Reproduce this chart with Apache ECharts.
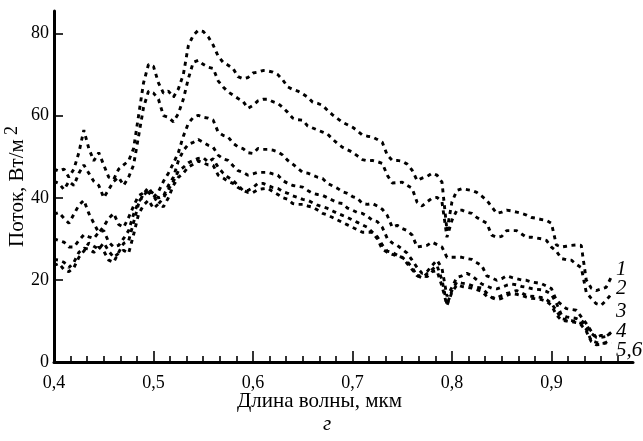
<!DOCTYPE html>
<html>
<head>
<meta charset="utf-8">
<script src="https://cdn.jsdelivr.net/npm/echarts@6/dist/echarts.min.js"></script>
<style>
  html, body { margin: 0; padding: 0; background: #fff; }
  #chart { width: 643px; height: 441px; }
</style>
</head>
<body>
<div id="chart"></div>
<script>
// Wavelength grid, µm
const wavelength = [
  0.400, 0.405, 0.410, 0.415, 0.420, 0.425, 0.430, 0.435, 0.440, 0.445,
  0.450, 0.455, 0.460, 0.465, 0.470, 0.475, 0.480, 0.485, 0.490, 0.495,
  0.500, 0.505, 0.510, 0.515, 0.520, 0.525, 0.530, 0.535, 0.540, 0.545,
  0.550, 0.555, 0.560, 0.565, 0.570, 0.575, 0.580, 0.585, 0.590, 0.595,
  0.600, 0.605, 0.610, 0.615, 0.620, 0.625, 0.630, 0.635, 0.640, 0.645,
  0.650, 0.655, 0.660, 0.665, 0.670, 0.675, 0.680, 0.685, 0.690, 0.695,
  0.700, 0.705, 0.710, 0.715, 0.720, 0.725, 0.730, 0.735, 0.740, 0.745,
  0.750, 0.755, 0.760, 0.765, 0.770, 0.775, 0.780, 0.785, 0.790, 0.795,
  0.800, 0.805, 0.810, 0.815, 0.820, 0.825, 0.830, 0.835, 0.840, 0.845,
  0.850, 0.855, 0.860, 0.865, 0.870, 0.875, 0.880, 0.885, 0.890, 0.895,
  0.900, 0.905, 0.910, 0.915, 0.920, 0.925, 0.930, 0.935, 0.940, 0.945,
  0.950, 0.955, 0.960
];

// Flux, W/m^2 — curves 1..6
const flux1 = [
  47, 46.5, 47, 45, 47, 51, 56.5, 52, 49, 51,
  48, 45, 44.5, 47, 48, 49, 52, 60, 68, 72.5,
  72, 68, 65.5, 66, 64.5, 66.5, 70, 77, 79.6, 80.8,
  80.5, 79.2, 77.2, 74.5, 73, 72.3, 71.5, 69.5, 69, 69.3,
  70.4, 70.6, 71, 70.9, 70.6, 70, 68.7, 67, 66.4, 66,
  65.3, 64.5, 63.3, 63, 62.5, 61.3, 60.2, 59.3, 58.4, 57.8,
  57.2, 56.3, 55.3, 55, 54.8, 54.2, 53.5, 50.4, 49.1, 49.1,
  48.9, 48.2, 46.7, 44.2, 44.8, 45.2, 46, 45.5, 43.8, 32,
  39, 41.8, 42.2, 42, 41.8, 41.3, 40.4, 39.4, 37.8, 36.2,
  36.5, 37, 36.8, 36.5, 36.2, 35.8, 35.2, 35, 34.7, 34.5,
  33.8, 28.5, 28, 28.2, 28.4, 28.5, 28.4, 20, 18, 17.4,
  17.8, 18.2, 20.6
];
const flux2 = [
  44, 43.5, 42, 44, 43, 46, 48, 46, 44, 43,
  40, 42, 44, 45, 43, 45, 48, 55, 62, 66,
  65.5, 64, 60, 59.6, 58.5, 60.5, 64, 69, 73, 73.5,
  72.5, 71.8, 71.5, 68.5, 67, 65.8, 65, 64.2, 63.5, 61.8,
  62.5, 63.6, 64, 64, 63.4, 63, 62, 60.8, 59.4, 59,
  58.9, 57.5, 57, 56.5, 56, 55.5, 54.3, 53.2, 52.3, 51.7,
  51.1, 50.2, 49.3, 49, 49.1, 48.8, 48.4, 45.5, 43.6, 43.7,
  43.8, 43, 42.3, 38.9, 38, 39, 39.9, 40.1, 39, 30.4,
  34.5, 37, 37, 36.5, 36.2, 35.2, 34.5, 33.8, 30.9, 30.4,
  30.6, 32, 32, 32, 31.2, 30.4, 30.4, 30.2, 30, 29.6,
  28, 27, 25.2, 24.9, 24.8, 23.8, 23, 17, 15.5, 14.2,
  13.8, 15, 16.5
];
const flux3 = [
  36, 36.4, 35, 33.8, 36, 38.2, 39.4, 36.2, 33.8, 31.5,
  33, 35, 36.2, 33.5, 32.8, 35.2, 38, 40.5, 41.2, 41.3,
  40.1, 41.5, 44, 46, 48.4, 51, 55, 58.1, 59.6, 60.1,
  59.6, 59.4, 58.9, 56, 55.2, 54.8, 53.3, 52.4, 52, 51,
  50.8, 52, 51.8, 51.8, 51.6, 51.2, 50.4, 49.1, 48.2, 47.2,
  46.2, 46, 45.5, 45, 44.7, 43.5, 42.9, 42.3, 41.5, 41.1,
  40.3, 39.9, 38.6, 38.4, 38.6, 38, 37.2, 35.7, 32.8, 33.3,
  32.5, 32, 30.9, 28, 28.2, 28.4, 29.2, 28.6, 28, 25.5,
  25.5, 25.5, 25.5, 25.2, 25, 24.2, 23.5, 21, 20.5, 19.9,
  20.3, 21, 20.6, 20.3, 20, 19.9, 19.5, 19.3, 19.1, 18.5,
  17.9, 15, 14, 13, 12.8, 12.6, 11, 9.4, 7.5, 6,
  6, 6.2, 7.2
];
const flux4 = [
  30, 29.6, 29.2, 28, 28, 29.6, 31, 30.5, 30.1, 31.6,
  32, 29.2, 28, 28.4, 30.1, 32, 36, 39, 40.5, 42,
  41, 40, 40.4, 43, 45, 49, 51.5, 53, 53.5, 54.2,
  53.5, 52.8, 52.3, 50.4, 49.5, 49.1, 47.8, 46.6, 46.2, 45.5,
  45.8, 46.2, 46.2, 46.2, 45.8, 45.5, 44.2, 43.5, 43, 42.8,
  42.6, 41.8, 41.1, 40.8, 40.6, 40, 39.4, 38.8, 38.6, 37.5,
  37, 36.4, 36.2, 35.5, 34.5, 34.2, 32.8, 30.1, 29, 28.4,
  27.5, 26.5, 24.8, 23, 21.6, 22, 23.5, 24.8, 22.8, 16,
  18.2, 20.6, 21, 21.6, 21, 20, 19, 18.5, 18, 17.8,
  18.2, 18.7, 19, 18.8, 18.4, 18.2, 17.9, 17.7, 17.6, 17.2,
  16.5, 14.3, 11.5, 11, 10.8, 10.6, 10.1, 9.2, 7, 6,
  6.5, 6.3, 7
];
const flux5 = [
  25, 24.8, 24.3, 23, 24.3, 26.7, 27.7, 27.5, 26.7, 28,
  27, 24.8, 24.3, 26.7, 28.9, 29.5, 34, 38.5, 41, 42.5,
  40.5, 38.5, 40, 42, 44, 46.5, 47.4, 48.5, 49.1, 49.6,
  49.8, 48.7, 49.5, 47.4, 46, 45, 44.2, 43, 41.8, 41.8,
  42.5, 43.5, 43.5, 43, 42.5, 42.3, 41.5, 41.1, 40.5, 40.1,
  39.6, 39.4, 38.8, 38.2, 37.8, 37.4, 36.8, 36.2, 35.7, 35.2,
  34.6, 34, 33.4, 32.8, 31.6, 30.5, 28.5, 27, 26.7, 26,
  25.5, 24.5, 23, 21, 20.5, 21.5, 22.5, 23.5, 20, 14,
  17.4, 19.5, 19.2, 19, 18.6, 18.2, 18, 16.8, 15.7, 15.6,
  16.2, 16.7, 17, 17.4, 16.8, 16.2, 16, 15.9, 15.7, 15.2,
  14.3, 12.5, 10.6, 10.3, 10.1, 9.8, 9.4, 8, 5.2, 4.8,
  4.5, 4.6, 4.7
];
const flux6 = [
  23.5, 24, 22.5, 22, 23, 25.5, 27, 29, 28.2, 27.5,
  29, 27, 25.5, 26.5, 27.2, 26.5, 31, 36, 38.2, 39.4,
  37.4, 38.5, 37.8, 40, 43, 45, 46, 47.5, 48.2, 49,
  48.5, 48, 47.9, 45.5, 44.8, 44, 43.5, 42.5, 41.8, 41.3,
  41.3, 42, 42.2, 42.3, 41.5, 40.8, 40, 39.6, 38.6, 38.4,
  38.4, 38, 37.7, 37, 36.2, 35.8, 35.2, 34.6, 34, 33.4,
  32.8, 32.2, 31.6, 31.6, 31.6, 30, 27.5, 26.7, 26.2, 25.8,
  25.5, 24, 22.5, 21, 21, 20.8, 22, 22.2, 18.5, 13.8,
  17, 18.8, 18.4, 18.2, 18, 17.6, 17.2, 16, 15.7, 15.2,
  15.5, 16.2, 16.7, 16.5, 16.2, 15.8, 15.5, 15.4, 15.2, 14.8,
  13.8, 11.5, 10.2, 10, 9.8, 9.6, 9, 7.5, 5, 4.2,
  4.3, 4.8, 5.5
];

const fluxSeries = [flux1, flux2, flux3, flux4, flux5, flux6];
const curveLabels = ['1', '2', '3', '4', '5,6'];
const xTickValues = [0.4, 0.5, 0.6, 0.7, 0.8, 0.9];
const yTickValues = [0, 20, 40, 60, 80];

const serif = '"Liberation Serif", "DejaVu Serif", serif';

const chart = echarts.init(document.getElementById('chart'), null, { renderer: 'canvas' });

const series = fluxSeries.map((values, k) => ({
  type: 'line',
  name: 'curve' + (k + 1),
  data: wavelength.map((w, i) => [w, values[i]]),
  showSymbol: false,
  smooth: false,
  silent: true,
  lineStyle: { color: '#000', width: 2.9, type: [4, 4.5], cap: 'butt' }
}));

// Curve numbers stacked at the right end of the plot
const labelRows = [271, 290, 313, 333, 352];
const curveText = curveLabels.map((t, i) => ({
  type: 'text',
  left: 616,
  top: labelRows[i] - 12,
  style: { text: t, font: 'italic 21px ' + serif, fill: '#000' }
}));

chart.setOption({
  animation: false,
  backgroundColor: '#fff',
  grid: { left: 54, right: 10, top: 11, bottom: 79, containLabel: false, outerBoundsMode: 'none' },
  xAxis: {
    type: 'value',
    min: 0.4,
    max: 0.982,
    interval: 0.1,
    axisLine: { show: true, lineStyle: { color: '#000', width: 3 } },
    axisTick: { show: true, inside: true, length: 11, lineStyle: { color: '#000', width: 1.6 }, customValues: xTickValues },
    minorTick: { show: true, splitNumber: 6, length: 6, lineStyle: { color: '#000', width: 1.6 } },
    axisLabel: {
      customValues: xTickValues,
      margin: 12,
      color: '#000',
      fontFamily: serif,
      fontSize: 18,
      formatter: v => v.toFixed(1).replace('.', ',')
    },
    splitLine: { show: false }
  },
  yAxis: {
    type: 'value',
    min: 0,
    max: 85.5,
    interval: 20,
    name: '{a|Поток, Вт/м}{s|2}',
    nameLocation: 'middle',
    nameRotate: 90,
    nameGap: 22,
    nameMoveOverlap: false,
    nameTextStyle: {
      color: '#000',
      fontFamily: serif,
      fontSize: 21,
      rich: {
        a: { fontFamily: serif, fontSize: 21, color: '#000' },
        s: { fontFamily: serif, fontSize: 18, color: '#000', padding: [0, 0, 11, 4] }
      }
    },
    axisLine: { show: true, lineStyle: { color: '#000', width: 3 } },
    axisTick: { show: true, inside: true, length: 9, lineStyle: { color: '#000', width: 1.6 }, customValues: yTickValues },
    axisLabel: {
      customValues: yTickValues,
      margin: 5,
      color: '#000',
      fontFamily: serif,
      fontSize: 18
    },
    splitLine: { show: false }
  },
  graphic: [
    {
      type: 'text',
      left: 237,
      top: 391,
      style: { text: 'Длина волны, мкм', font: '21px ' + serif, fill: '#000' }
    },
    {
      type: 'text',
      left: 323,
      top: 414,
      style: { text: 'г', font: 'italic 21px ' + serif, fill: '#000' }
    }
  ].concat(curveText),
  series: series
});
</script>
</body>
</html>
